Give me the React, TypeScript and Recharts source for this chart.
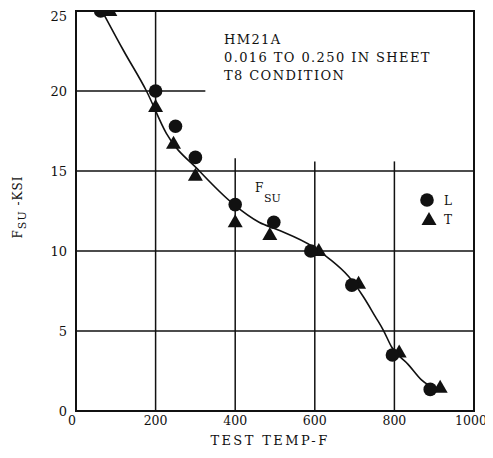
import React from 'react';
import {
  ComposedChart,
  XAxis,
  YAxis,
  Line,
  Scatter,
  ReferenceLine,
  ReferenceArea,
  Customized,
} from 'recharts';

// values
const tempL = [62, 200, 250, 300, 400, 497, 590, 693, 795, 890];
const fsuL = [25, 20, 17.8, 15.85, 12.9, 11.8, 10, 7.87, 3.5, 1.35];

const tempT = [85, 200, 245, 300, 400, 487, 610, 710, 812, 915];
const fsuT = [25, 19, 16.7, 14.7, 11.8, 11.0, 10, 7.95, 3.65, 1.45];

const curveTemp = [71, 120, 177, 227, 310, 397, 460, 510, 593, 635, 685, 722, 752, 772, 793, 835, 868, 910];
const curveFsu = [24.75, 22.5, 20, 17.35, 15, 12.9, 11.8, 11.3, 10.3, 9.54, 8.4, 7.14, 5.9, 5.06, 4.0, 2.9, 1.94, 1.3];

const xTicks = [0, 200, 400, 600, 800, 1000];
const yTicks = [0, 5, 10, 15, 20, 25];

const titleLines = ['HM21A', '0.016 TO 0.250 IN SHEET', 'T8 CONDITION'];

const lData = tempL.map((x, i) => ({ x, y: fsuL[i] }));
const tData = tempT.map((x, i) => ({ x, y: fsuT[i] }));
const curveData = curveTemp.map((x, i) => ({ x, y: curveFsu[i] }));

const FONT = '"DejaVu Serif", serif';
const INK = '#111';

const Circle = (props: any) => <circle cx={props.cx} cy={props.cy} r={6.8} fill={INK} />;

const Triangle = (props: any) => {
  const { cx, cy } = props;
  return <polygon points={`${cx},${cy - 8} ${cx + 7.5},${cy + 5} ${cx - 7.5},${cy + 5}`} fill={INK} />;
};

// x tick: keep the last label inside the frame, first one slightly left like the original
const XTick = (props: any) => {
  const { x, y, payload } = props;
  const v = payload.value;
  const shift = v === 1000 ? -3 : v === 0 ? -4 : 0;
  return (
    <text x={x + shift} y={y} dy="0.71em" textAnchor="middle" fontFamily={FONT} fontSize={12.5} fill={INK}>
      {v}
    </text>
  );
};

const Notes = () => (
  <g fontFamily={FONT} fill={INK}>
    {titleLines.map((t, i) => (
      <text key={t} x={216} y={36 + i * 18} fontSize={13} letterSpacing={1.4}>
        {t}
      </text>
    ))}
    <text x={247} y={184} fontSize={12}>F</text>
    <text x={256} y={194} fontSize={11}>SU</text>
    <circle cx={419} cy={192} r={6.8} fill={INK} />
    <text x={436} y={197} fontSize={12}>L</text>
    <polygon points="421,204 428.5,217 413.5,217" fill={INK} />
    <text x={436} y={216} fontSize={12}>T</text>
    <text x={262} y={437} fontSize={13} letterSpacing={2.4} textAnchor="middle">TEST TEMP-F</text>
    <text transform="translate(14,199) rotate(-90)" fontSize={12} letterSpacing={1} textAnchor="middle">
      F<tspan fontSize={11} dy={4}>SU</tspan>
      <tspan dy={-4}> -KSI</tspan>
    </text>
  </g>
);

const App: React.FC = () => {
  const tick = { fontFamily: FONT, fontSize: 13, fill: INK };
  return (
    <ComposedChart
      width={485}
      height={442}
      margin={{ top: 3, right: 19, left: 28, bottom: 9 }}
    >
      <XAxis
        type="number"
        dataKey="x"
        domain={[0, 1000]}
        ticks={xTicks}
        allowDataOverflow
        axisLine={false}
        tickLine={false}
        tickSize={0}
        tickMargin={5}
        height={30}
        tick={<XTick />}
        interval={0}
      />
      <YAxis
        type="number"
        dataKey="y"
        domain={[0, 25]}
        ticks={yTicks}
        allowDataOverflow
        axisLine={false}
        tickLine={false}
        tickSize={0}
        tickMargin={9}
        width={40}
        tick={tick}
      />
      <ReferenceLine segment={[{ x: 0, y: 20 }, { x: 325, y: 20 }]} stroke={INK} strokeWidth={1.5} />
      <ReferenceLine y={15} stroke={INK} strokeWidth={1.5} />
      <ReferenceLine y={10} stroke={INK} strokeWidth={1.5} />
      <ReferenceLine y={5} stroke={INK} strokeWidth={1.5} />
      <ReferenceLine x={200} stroke={INK} strokeWidth={1.5} />
      <ReferenceLine segment={[{ x: 400, y: 0 }, { x: 400, y: 15.8 }]} stroke={INK} strokeWidth={1.5} />
      <ReferenceLine segment={[{ x: 600, y: 0 }, { x: 600, y: 15.6 }]} stroke={INK} strokeWidth={1.5} />
      <ReferenceLine segment={[{ x: 800, y: 0 }, { x: 800, y: 15.6 }]} stroke={INK} strokeWidth={1.5} />
      <ReferenceArea x1={0} x2={1000} y1={0} y2={25} fill="none" stroke={INK} strokeWidth={2} />
      <Line
        data={curveData}
        dataKey="y"
        type="monotone"
        stroke={INK}
        strokeWidth={1.6}
        dot={false}
        isAnimationActive={false}
      />
      <Scatter data={tData} dataKey="y" shape={Triangle} isAnimationActive={false} />
      <Scatter data={lData} dataKey="y" shape={Circle} isAnimationActive={false} />
      <Customized component={Notes} />
    </ComposedChart>
  );
};

export default App;
